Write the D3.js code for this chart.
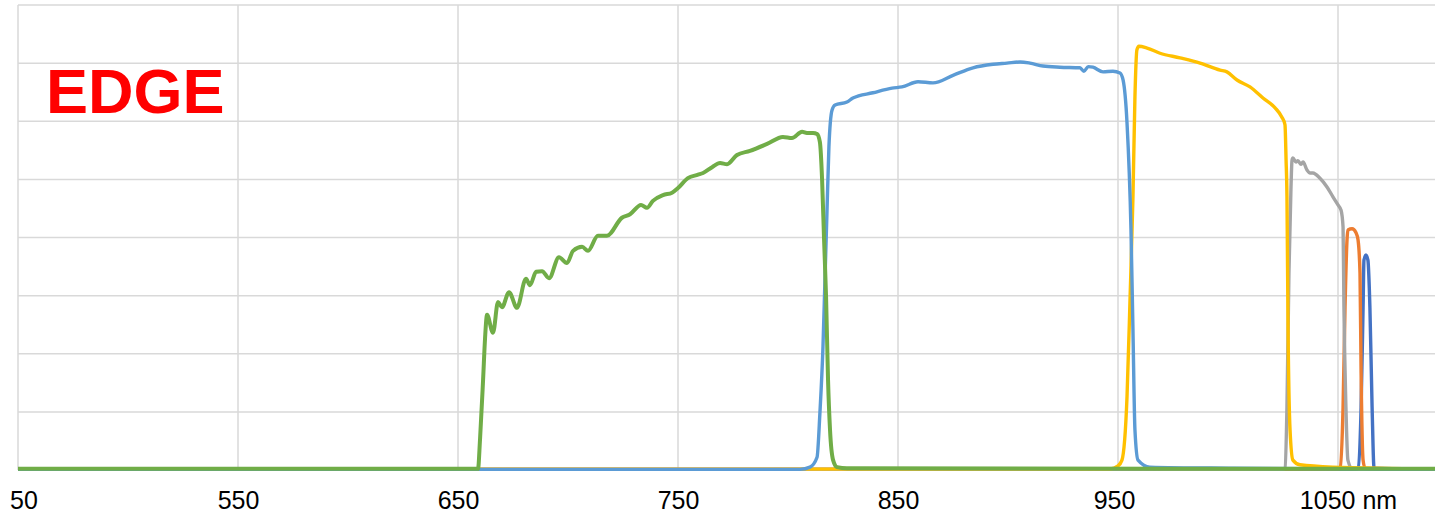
<!DOCTYPE html>
<html>
<head>
<meta charset="utf-8">
<script src="https://cdn.jsdelivr.net/npm/d3@7"></script>
<style>
  html, body { margin: 0; padding: 0; background: #fff; }
  svg { display: block; }
</style>
</head>
<body>
<svg id="chart" width="1435" height="516"></svg>
<script>
// ---- Data (wavelength nm, transmission %) ----
const xTicks = [450, 550, 650, 750, 850, 950, 1050];
const yTicks = [0, 10, 20, 30, 40, 50, 60, 70, 80];
const unitLabel = "nm";
const titleText = "EDGE";

const seriesNames = ["S1060", "S1055", "S1040", "S990", "S890", "S740"];
const seriesColors = ["#4472C4", "#ED7D31", "#A5A5A5", "#FFC000", "#5B9BD5", "#70AD47"];

const darkBlueData = [
  [450, 0.1], [1058, 0.1], [1059.1, 0.3], [1060.5, 10.8], [1061.4, 28.0], [1061.8, 36.1],
  [1062.7, 37.0], [1063.6, 36.1], [1064.5, 28.0], [1065.5, 10.8], [1066.4, 0.3], [1094, 0.1]
];
const orangeData = [
  [450, 0.1], [1050, 0.1], [1050.9, 0.3], [1052.3, 10.8], [1053.2, 28.0], [1054.1, 39.6],
  [1054.5, 41.3], [1056.4, 41.5], [1058.2, 40.8], [1059.1, 39.6], [1060.0, 33.9],
  [1060.5, 16.7], [1061.4, 1.7], [1062.3, 0.3], [1094, 0.1]
];
const grayData = [
  [450, 0.1], [1025, 0.1], [1025.9, 0.3], [1026.8, 10.8], [1027.7, 33.9], [1028.6, 48.2],
  [1029.1, 53.3], [1029.5, 53.7], [1030.9, 53.0], [1031.8, 53.2], [1033.2, 52.6],
  [1034.1, 53.0], [1035.9, 51.6], [1037.3, 51.1], [1038.6, 51.1], [1041.8, 50.2],
  [1045.0, 48.7], [1047.7, 47.0], [1050.0, 45.6], [1051.4, 44.7], [1052.3, 41.8],
  [1052.7, 28.0], [1053.6, 10.8], [1054.5, 1.7], [1056.4, 0.3], [1094, 0.1]
];
const yellowData = [
  [450, 0.1], [946.4, 0.2], [950.0, 0.7], [951.8, 1.7], [954.1, 12.6], [955.5, 29.8],
  [956.8, 47.0], [957.7, 64.2], [958.6, 72.3], [959.5, 72.9], [963.2, 72.6], [969.1, 71.7],
  [978.2, 70.9], [987.3, 70.0], [996.4, 68.8], [999.5, 68.5], [1004.1, 67.1], [1010.0, 65.9],
  [1015.9, 64.0], [1021.4, 62.3], [1024.5, 60.7], [1025.9, 59.4], [1026.4, 53.3],
  [1026.8, 47.0], [1027.3, 24.1], [1028.2, 6.9], [1029.5, 1.7], [1032.7, 0.9],
  [1047.7, 0.5], [1094, 0.2]
];
const lightBlueData = [
  [450, 0.1], [805.5, 0.1], [810.0, 0.5], [813.2, 2.2], [814.5, 9.8], [815.9, 21.2],
  [816.8, 32.7], [817.7, 44.2], [818.6, 55.6], [820.0, 61.9], [821.4, 62.8], [826.8, 63.3],
  [829.5, 64.0], [838.6, 64.9], [847.3, 65.7], [851.8, 65.9], [859.1, 66.8], [865.9, 66.6],
  [875.0, 67.9], [884.1, 69.2], [893.2, 69.8], [899.5, 70.0], [905.5, 70.2], [910.0, 70.0],
  [915.9, 69.5], [923.6, 69.3], [932.7, 69.2], [934.5, 68.6], [936.5, 69.4], [938.6, 69.3],
  [943.2, 68.5], [947.7, 68.6], [950.9, 68.3], [952.3, 67.1], [954.1, 59.7], [955.9, 41.3],
  [956.8, 24.1], [957.7, 6.9], [959.1, 1.7], [964.5, 0.5], [1002.3, 0.3], [1094, 0.1]
];
const greenData = [
  [450, 0.2], [659.1, 0.2], [660.0, 5.2], [661.4, 15.5], [662.3, 22.7], [663.2, 26.7],
  [665.9, 23.6], [668.2, 28.9], [670.0, 28.0], [673.2, 30.6], [676.8, 27.9], [680.9, 32.9],
  [682.7, 31.8], [685.5, 34.1], [688.2, 34.2], [691.4, 33.0], [695.9, 36.6], [699.5, 35.6],
  [702.3, 37.7], [706.4, 38.4], [709.1, 37.7], [713.6, 40.3], [717.7, 40.3], [724.5, 43.4],
  [728.2, 44.0], [733.2, 45.6], [735.9, 45.1], [738.6, 46.3], [743.2, 47.3], [747.3, 47.7],
  [750.0, 48.5], [754.5, 50.2], [759.1, 50.8], [761.4, 51.1], [765.5, 52.1], [769.1, 52.8],
  [772.3, 52.6], [776.8, 54.2], [782.7, 54.9], [790.5, 56.1], [797.7, 57.3], [801.8, 57.1],
  [806.4, 58.2], [808.6, 58.0], [811.4, 58.0], [813.2, 57.8], [814.5, 56.4], [815.5, 49.9],
  [816.4, 39.6], [817.3, 29.8], [818.2, 15.5], [819.1, 6.9], [820.5, 1.7], [822.3, 0.5],
  [826.8, 0.3], [1094, 0.2]
];
const seriesData = [darkBlueData, orangeData, grayData, yellowData, lightBlueData, greenData];

// ---- Layout ----
const W = 1435, H = 516;
const plot = { left: 18, right: 1435, top: 5, bottom: 470 };

const svg = d3.select("#chart");

const x = d3.scaleLinear().domain([450, 450 + (plot.right - plot.left) / 2.2]).range([plot.left, plot.right]);
const y = d3.scaleLinear().domain([0, 80]).range([plot.bottom, plot.top]);

// Grid lines
const grid = svg.append("g").attr("class", "grid");
grid.selectAll("line.h").data(yTicks).join("line")
  .attr("class", "h")
  .attr("x1", plot.left).attr("x2", plot.right)
  .attr("y1", d => y(d)).attr("y2", d => y(d))
  .attr("stroke", "#d9d9d9").attr("stroke-width", 1.5);
grid.selectAll("line.v").data(xTicks).join("line")
  .attr("class", "v")
  .attr("x1", d => x(d)).attr("x2", d => x(d))
  .attr("y1", plot.top).attr("y2", plot.bottom)
  .attr("stroke", "#d9d9d9").attr("stroke-width", 1.5);

// Chart-area clip for axis labels (the first label is cut at the chart area's left edge)
svg.append("clipPath").attr("id", "labelclip")
  .append("rect").attr("x", 10).attr("y", plot.bottom)
  .attr("width", W - 10).attr("height", H - plot.bottom);

// X axis labels
const xAxis = d3.axisBottom(x)
  .tickValues(xTicks)
  .tickSize(0)
  .tickPadding(0)
  .tickFormat(d => d === 1050 ? `${d} ${unitLabel}` : `${d}`);
const gxWrap = svg.append("g").attr("clip-path", "url(#labelclip)");
const gx = gxWrap.append("g")
  .attr("transform", `translate(0,${plot.bottom})`)
  .call(xAxis);
gx.select(".domain").remove();
gx.selectAll("text")
  .attr("y", 39)
  .attr("dy", 0)
  .attr("dx", d => d === 1050 ? 10 : (d === 950 ? -4 : (d === 450 ? -1.5 : 0)))
  .attr("fill", "#000")
  .style("font-family", "'Liberation Sans', Arial, sans-serif")
  .style("font-size", "25px");

// Clip
svg.append("clipPath").attr("id", "clip")
  .append("rect").attr("x", plot.left).attr("y", 0)
  .attr("width", plot.right - plot.left).attr("height", plot.bottom + 3);

const line = d3.line().x(d => x(d[0])).y(d => y(d[1])).curve(d3.curveMonotoneX);

svg.append("g").attr("clip-path", "url(#clip)")
  .selectAll("path").data(seriesData).join("path")
  .attr("d", d => line(d))
  .attr("fill", "none")
  .attr("stroke", (d, i) => seriesColors[i])
  .attr("stroke-width", (d, i) => i === 5 ? 4 : 3.4)
  .attr("stroke-linejoin", "round")
  .attr("stroke-linecap", "round");

// Title
svg.append("text")
  .attr("x", 46).attr("y", 113)
  .attr("fill", "#FF0000")
  .style("font-family", "'Liberation Sans', Arial, sans-serif")
  .style("font-weight", "bold")
  .style("font-size", "63px")
  .text(titleText);
</script>
</body>
</html>
